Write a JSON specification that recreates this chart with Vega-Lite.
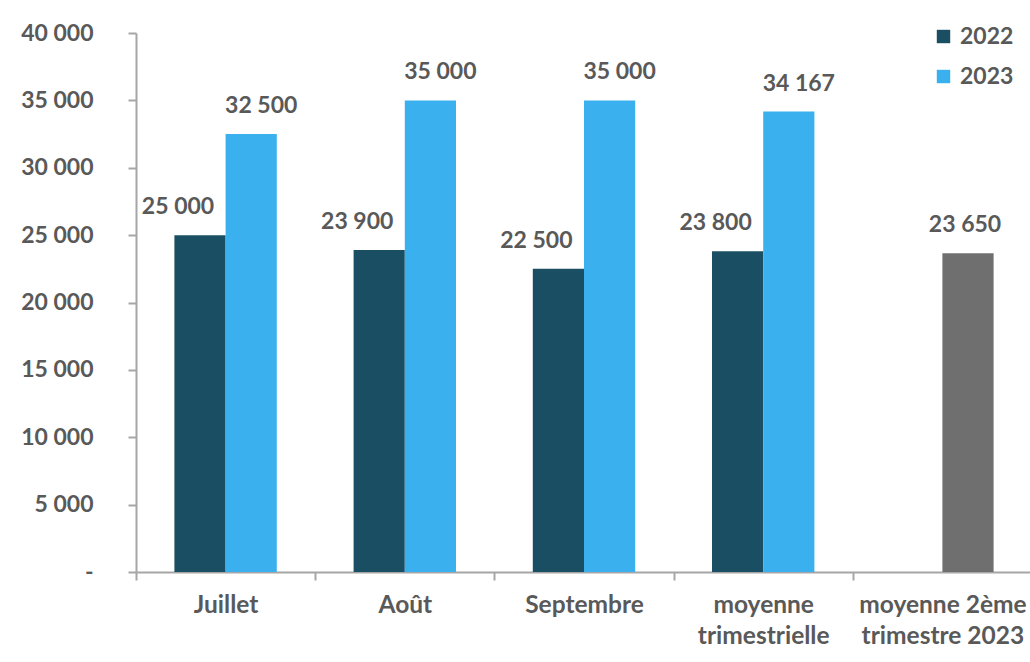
{
  "$schema": "https://vega.github.io/schema/vega-lite/v6.json",
  "width": 896,
  "height": 539,
  "autosize": {"type": "none"},
  "padding": {"left": 136, "top": 33, "right": 0, "bottom": 90},
  "background": "white",
  "config": {"font": "Lato", "view": {"stroke": null}},
  "data": {
    "values": [
      {"cat": "Juillet", "slot": "2022", "serie": "2022", "value": 25000, "label": "25 000"},
      {"cat": "Juillet", "slot": "2023", "serie": "2023", "value": 32500, "label": "32 500"},
      {"cat": "Août", "slot": "2022", "serie": "2022", "value": 23900, "label": "23 900"},
      {"cat": "Août", "slot": "2023", "serie": "2023", "value": 35000, "label": "35 000"},
      {"cat": "Septembre", "slot": "2022", "serie": "2022", "value": 22500, "label": "22 500"},
      {"cat": "Septembre", "slot": "2023", "serie": "2023", "value": 35000, "label": "35 000"},
      {"cat": "moyenne trimestrielle", "slot": "2022", "serie": "2022", "value": 23800, "label": "23 800"},
      {"cat": "moyenne trimestrielle", "slot": "2023", "serie": "2023", "value": 34167, "label": "34 167"},
      {"cat": "moyenne 2ème trimestre 2023", "slot": "2023", "serie": "T2 2023", "value": 23650, "label": "23 650"}
    ]
  },
  "encoding": {
    "x": {
      "field": "cat", "type": "nominal",
      "sort": ["Juillet", "Août", "Septembre", "moyenne trimestrielle", "moyenne 2ème trimestre 2023"],
      "scale": {"paddingInner": 0, "paddingOuter": 0},
      "axis": {
        "title": null, "labelAngle": 0, "tickBand": "extent",
        "labelExpr": "datum.value == 'moyenne trimestrielle' ? ['moyenne', 'trimestrielle'] : datum.value == 'moyenne 2ème trimestre 2023' ? ['moyenne 2ème', 'trimestre 2023'] : datum.value",
        "labelFont": "Lato", "labelFontSize": 24.5, "labelFontWeight": "bold", "labelColor": "#595959",
        "labelLineHeight": 31, "labelPadding": 13, "labelBaseline": "top",
        "domainColor": "#A6A6A6", "domainWidth": 2, "tickColor": "#A6A6A6", "tickWidth": 2, "tickSize": 8
      }
    },
    "xOffset": {
      "field": "slot", "type": "nominal",
      "scale": {"domain": ["2022", "2023"], "paddingInner": 0, "paddingOuter": 0.75}
    },
    "y": {
      "field": "value", "type": "quantitative",
      "scale": {"domain": [0, 40000], "nice": false},
      "axis": {
        "title": null, "grid": false, "values": [0, 5000, 10000, 15000, 20000, 25000, 30000, 35000, 40000],
        "labelExpr": "datum.value == 0 ? '-\u2003' : replace(format(datum.value, ','), ',', ' ')",
        "labelFont": "Lato", "labelFontSize": 23, "labelFontWeight": "bold", "labelColor": "#595959",
        "labelPadding": 35,
        "domainColor": "#A6A6A6", "domainWidth": 2, "tickColor": "#A6A6A6", "tickWidth": 2, "tickSize": 8
      }
    }
  },
  "layer": [
    {
      "mark": {"type": "bar"},
      "encoding": {
        "color": {
          "field": "serie", "type": "nominal",
          "scale": {"domain": ["2022", "2023", "T2 2023"], "range": ["#1A4F63", "#3BB0EE", "#6F6F6F"]},
          "legend": {
            "values": ["2022", "2023"], "title": null, "orient": "none", "legendX": 796, "legendY": -8,
            "symbolType": "square", "symbolSize": 180, "symbolStrokeWidth": 0, "symbolOpacity": 1,
            "labelFont": "Lato", "labelFontSize": 23, "labelFontWeight": "bold", "labelColor": "#595959",
            "rowPadding": 16, "labelOffset": 5
          }
        }
      }
    },
    {
      "transform": [{"filter": "datum.serie == '2022'"}],
      "mark": {"type": "text", "dx": -22, "dy": -21, "baseline": "alphabetic", "font": "Lato", "fontSize": 23, "fontWeight": "bold", "color": "#595959"},
      "encoding": {"text": {"field": "label"}}
    },
    {
      "transform": [{"filter": "datum.serie == '2023'"}],
      "mark": {"type": "text", "dx": 10, "dy": -21, "baseline": "alphabetic", "font": "Lato", "fontSize": 23, "fontWeight": "bold", "color": "#595959"},
      "encoding": {"text": {"field": "label"}}
    },
    {
      "transform": [{"filter": "datum.serie == 'T2 2023'"}],
      "mark": {"type": "text", "dx": -3, "dy": -21, "baseline": "alphabetic", "font": "Lato", "fontSize": 23, "fontWeight": "bold", "color": "#595959"},
      "encoding": {"text": {"field": "label"}}
    }
  ]
}
